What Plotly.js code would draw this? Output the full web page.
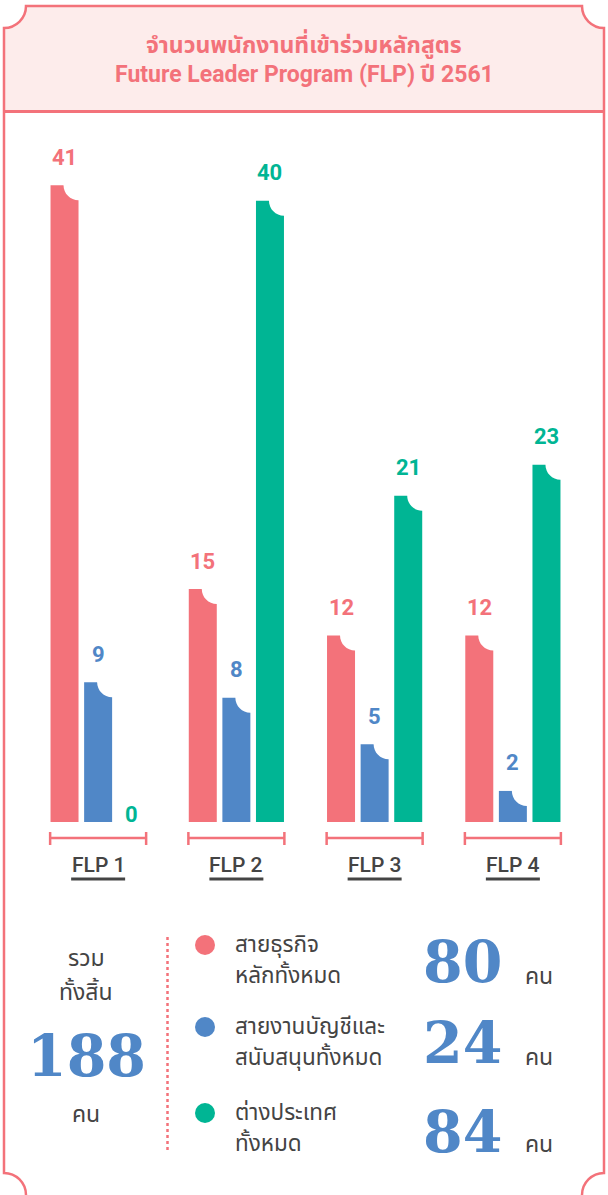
<!DOCTYPE html>
<html>
<head>
<meta charset="utf-8">
<script src="https://cdn.plot.ly/plotly-3.0.1.min.js"></script>
<style>html,body{margin:0;padding:0;background:#fff;}#chart{width:608px;height:1195px;}</style>
</head>
<body>
<div id="chart"></div>
<script>
// ---- data ----
const categories = ['FLP 1', 'FLP 2', 'FLP 3', 'FLP 4'];
const businessValues = [41, 15, 12, 12];
const supportValues = [9, 8, 5, 2];
const overseasValues = [0, 40, 21, 23];
const seriesColors = ['#f3727a', '#5087c7', '#00b594'];
const legendLines = [
  ['สายธุรกิจ', 'หลักทั้งหมด'],
  ['สายงานบัญชีและ', 'สนับสนุนทั้งหมด'],
  ['ต่างประเทศ', 'ทั้งหมด']
];
const titleLines = ['จำนวนพนักงานที่เข้าร่วมหลักสูตร', 'Future Leader Program (FLP) ปี 2561'];
const totalLabelTop = ['รวม', 'ทั้งสิ้น'];
const unitLabel = 'คน';

// ---- layout geometry ----
const W = 608, H = 1195;
const ML = 29, MR = 26, MT = 123, MB = 373;
const PW = W - ML - MR, PH = H - MT - MB;
const PINK = '#f3727a', BLUE = '#5087c7', DARK = '#444444';
const px = x => (x - ML) / PW;
const py = y => (H - MB - y) / PH;
const P = (x, y) => px(x).toFixed(5) + ',' + py(y).toFixed(5);

const seriesValues = [businessValues, supportValues, overseasValues];
const groups = categories.map((c, i) => i);
const pitch = 0.243, bw = 0.2025;
const offsets = [-1, 0, 1];

const numFont = '"Liberation Sans Narrow", Roboto, sans-serif';
const thaiFont = '"Noto Sans Thai", "Noto Sans", sans-serif';

const traces = seriesValues.map((vals, j) => ({
  type: 'bar',
  x: groups.map(i => i + offsets[j] * pitch),
  y: vals,
  width: bw,
  marker: {color: seriesColors[j], line: {width: 0}},
  hoverinfo: 'skip'
}));

const shapes = [];
const annotations = [];

// header fill + frame
const k = 0.5523, r = 22, kr = k * r;
shapes.push({
  type: 'path', xref: 'paper', yref: 'paper', layer: 'below',
  path: `M ${P(4,6+r)} C ${P(4+kr,6+r)} ${P(4+r,6+kr)} ${P(4+r,6)} L ${P(604-r,6)} C ${P(604-r,6+kr)} ${P(604-kr,6+r)} ${P(604,6+r)} L ${P(604,111)} L ${P(4,111)} Z`,
  fillcolor: '#fdeceb', line: {width: 0}
});
shapes.push({
  type: 'path', xref: 'paper', yref: 'paper', layer: 'above',
  path: `M ${P(4+r,1195)} C ${P(4+r,1195-kr)} ${P(4+kr,1195-r)} ${P(4,1195-r)} L ${P(4,6+r)} C ${P(4+kr,6+r)} ${P(4+r,6+kr)} ${P(4+r,6)} L ${P(604-r,6)} C ${P(604-r,6+kr)} ${P(604-kr,6+r)} ${P(604,6+r)} L ${P(604,1195-r)} C ${P(604-kr,1195-r)} ${P(604-r,1195-kr)} ${P(604-r,1195)}`,
  line: {color: PINK, width: 2.5}
});
shapes.push({type: 'line', xref: 'paper', yref: 'paper', x0: px(4), x1: px(604), y0: py(111.5), y1: py(111.5), line: {color: PINK, width: 3}});

// title
titleLines.forEach((t, i) => annotations.push({
  xref: 'paper', yref: 'paper', x: px(304), y: py(i === 0 ? 44 : 75), xanchor: 'center', yanchor: 'middle',
  text: '<b>' + t + '</b>', showarrow: false,
  font: {family: 'Roboto, ' + thaiFont, size: 23, color: PINK}
}));

// bar notches and value labels
const rr = 15, kk = k * rr;
seriesValues.forEach((vals, j) => {
  vals.forEach((v, i) => {
    const xc = i + offsets[j] * pitch;
    if (v > 0) {
      shapes.push({
        type: 'path', layer: 'above', xref: 'x', yref: 'y',
        xsizemode: 'pixel', ysizemode: 'pixel', xanchor: xc + bw / 2, yanchor: v,
        path: `M 1,1 L ${-rr},1 L ${-rr},0 C ${-rr},${-kk} ${-kk},${-rr} 0,${-rr} L 1,${-rr} Z`,
        fillcolor: '#ffffff', line: {width: 0}
      });
    }
    annotations.push({
      x: xc, y: v, xref: 'x', yref: 'y', text: '<b>' + v + '</b>', showarrow: false,
      yanchor: 'middle', xanchor: 'center', yshift: v > 0 ? 28 : 8,
      font: {family: numFont, size: 22, color: seriesColors[j]}
    });
  });
});

// category brackets, labels, underlines
categories.forEach((c, i) => {
  shapes.push({
    type: 'path', xref: 'x', yref: 'paper', xsizemode: 'pixel', ysizemode: 'pixel', xanchor: i, yanchor: 0,
    path: 'M -48,-10 L -48,-23 M -48,-16 L 48,-16 M 48,-10 L 48,-23',
    line: {color: PINK, width: 2.5}
  });
  shapes.push({
    type: 'path', xref: 'x', yref: 'paper', xsizemode: 'pixel', ysizemode: 'pixel', xanchor: i, yanchor: 0,
    path: 'M -27,-57 L 27,-57',
    line: {color: DARK, width: 3}
  });
  annotations.push({
    x: i, xref: 'x', y: 0, yref: 'paper', yanchor: 'middle', yshift: -43, showarrow: false,
    text: c, font: {family: 'Roboto, sans-serif', size: 21, color: DARK, weight: 500}
  });
});

// bottom summary
const totals = seriesValues.map(v => v.reduce((a, b) => a + b, 0));
const grand = totals.reduce((a, b) => a + b, 0);
const bigFont = {family: '"DejaVu Serif", serif', size: 57, color: BLUE};
const unitFont = {family: thaiFont, size: 23, color: DARK};
const legendFont = {family: thaiFont, size: 22.5, color: DARK};

totalLabelTop.forEach((t, i) => annotations.push({
  xref: 'paper', yref: 'paper', x: px(86), y: py(i === 0 ? 959 : 993), xanchor: 'center', yanchor: 'middle',
  text: t, showarrow: false, font: unitFont, borderpad: 0
}));
annotations.push({xref: 'paper', yref: 'paper', x: px(86), y: py(1055), xanchor: 'center', yanchor: 'middle',
  text: '<b>' + grand + '</b>', showarrow: false, font: bigFont, borderpad: 0});
annotations.push({xref: 'paper', yref: 'paper', x: px(86), y: py(1115), xanchor: 'center', yanchor: 'middle',
  text: unitLabel, showarrow: false, font: unitFont, borderpad: 0});

shapes.push({type: 'line', xref: 'paper', yref: 'paper', x0: px(167.5), x1: px(167.5), y0: py(937), y1: py(1152),
  line: {color: PINK, width: 2.5, dash: 'dot'}});

const rowY = [945, 1027, 1113];
const numY = [961, 1042, 1131];
const unitY = [977, 1058, 1145];
legendLines.forEach((lines, j) => {
  shapes.push({type: 'circle', xref: 'paper', yref: 'paper', xsizemode: 'pixel', ysizemode: 'pixel',
    xanchor: px(205), yanchor: py(rowY[j]), x0: -10, x1: 10, y0: -10, y1: 10,
    fillcolor: seriesColors[j], line: {width: 0}});
  lines.forEach((ln, m) => annotations.push({xref: 'paper', yref: 'paper', x: px(234), y: py(rowY[j] + m * 30.5), xanchor: 'left', yanchor: 'middle',
    text: ln, showarrow: false, font: legendFont, borderpad: 0}));
  annotations.push({xref: 'paper', yref: 'paper', x: px(462), y: py(numY[j]), xanchor: 'center', yanchor: 'middle',
    text: '<b>' + totals[j] + '</b>', showarrow: false, font: bigFont, borderpad: 0});
  annotations.push({xref: 'paper', yref: 'paper', x: px(539), y: py(unitY[j]), xanchor: 'center', yanchor: 'middle',
    text: unitLabel, showarrow: false, font: unitFont, borderpad: 0});
});

const layout = {
  width: W, height: H,
  margin: {l: ML, r: MR, t: MT, b: MB, pad: 0},
  paper_bgcolor: '#ffffff', plot_bgcolor: '#ffffff',
  showlegend: false, barmode: 'overlay',
  xaxis: {range: [-0.5, 3.5], showgrid: false, zeroline: false, showline: false, showticklabels: false, ticks: '', fixedrange: true},
  yaxis: {range: [0, 45], showgrid: false, zeroline: false, showline: false, showticklabels: false, ticks: '', fixedrange: true},
  shapes: shapes, annotations: annotations
};

Plotly.newPlot('chart', traces, layout, {staticPlot: true, displayModeBar: false});
</script>
</body>
</html>
